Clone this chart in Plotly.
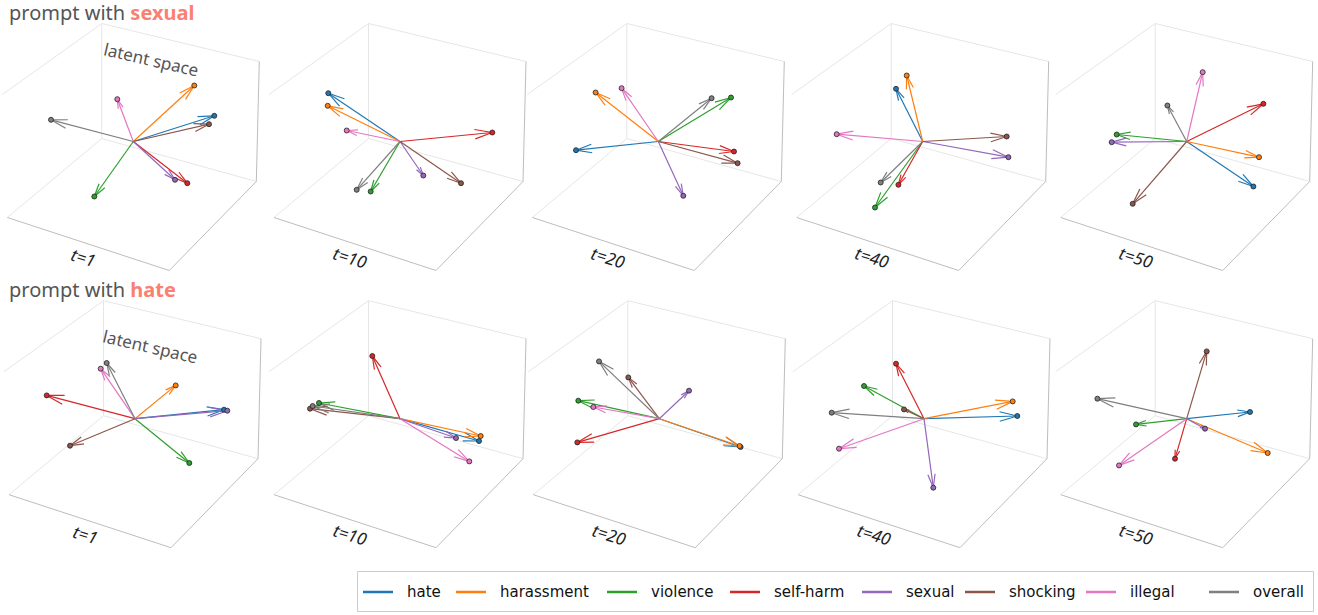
import math
import plotly.graph_objects as go

W, H = 1318, 615

categories = ["hate", "harassment", "violence", "self-harm", "sexual", "shocking", "illegal", "overall"]
colors = ["#1f77b4", "#ff7f0e", "#2ca02c", "#d62728", "#9467bd", "#8c564b", "#e377c2", "#7f7f7f"]
timesteps = ["t=1", "t=10", "t=20", "t=40", "t=50"]
prompts = ["sexual", "hate"]

# Projected direction of each category vector (screen plane), category order as above.
# prompt with "sexual"
sexual_t1_x = [81.0, 61.0, -39.0, 54.0, 41.7, 75.7, -16.0, -82.3]
sexual_t1_y = [25.7, 56.0, -55.0, -41.7, -38.3, 17.3, 42.3, 21.7]
sexual_t10_x = [-71.7, -72.3, -29.3, 92.3, 23.3, 61.0, -53.3, -43.3]
sexual_t10_y = [48.3, 35.7, -50.0, 9.0, -34.0, -41.7, 11.0, -48.3]
sexual_t20_x = [-82.3, -62.7, 72.7, 75.7, 25.0, 79.3, -36.7, 53.3]
sexual_t20_y = [-8.7, 49.0, 44.0, -10.0, -54.3, -21.7, 53.3, 43.3]
sexual_t40_x = [-26.7, -16.0, -47.7, -24.3, 85.7, 84.0, -86.0, -42.0]
sexual_t40_y = [52.7, 66.0, -66.0, -43.3, -15.7, 5.0, 7.3, -41.0]
sexual_t50_x = [66.7, 72.3, -70.0, 76.7, -75.0, -54.0, 16.0, -19.3]
sexual_t50_y = [-45.0, -15.7, 7.0, 37.7, -0.7, -62.3, 69.3, 36.0]

# prompt with "hate"
hate_t1_x = [89.0, 40.7, 54.3, -88.3, 92.3, -65.0, -34.3, -28.3]
hate_t1_y = [9.0, 33.3, -44.3, 23.3, 8.0, -27.0, 50.0, 55.7]
hate_t10_x = [79.0, 80.7, -81.0, -27.7, 56.0, -90.0, 69.3, -87.3]
hate_t10_y = [-22.3, -17.3, 15.7, 62.7, -19.3, 10.0, -42.7, 12.7]
hate_t20_x = [81.3, 80.3, -81.0, -82.0, 29.7, -31.0, -66.0, -60.3]
hate_t20_y = [-28.3, -27.3, 18.0, -23.7, 28.0, 41.3, 11.7, 57.3]
hate_t40_x = [93.3, 88.7, -60.0, -28.0, 9.3, -20.0, -85.0, -92.3]
hate_t40_y = [2.7, 17.3, 32.7, 55.0, -69.0, 9.3, -30.0, 6.0]
hate_t50_x = [63.3, 81.0, -50.7, -11.7, 18.3, 20.0, -67.7, -89.3]
hate_t50_y = [6.7, -34.3, -5.7, -40.0, -10.0, 67.3, -46.7, 20.0]

panels = [
    [(sexual_t1_x, sexual_t1_y), (sexual_t10_x, sexual_t10_y), (sexual_t20_x, sexual_t20_y),
     (sexual_t40_x, sexual_t40_y), (sexual_t50_x, sexual_t50_y)],
    [(hate_t1_x, hate_t1_y), (hate_t10_x, hate_t10_y), (hate_t20_x, hate_t20_y),
     (hate_t40_x, hate_t40_y), (hate_t50_x, hate_t50_y)],
]

# screen position (px) of each panel's origin
row_cx = [[133.3, 400.0, 658.3, 922.7, 1186.7], [135.0, 400.0, 659.3, 924.0, 1186.7]]
row_cy = [141.5, 418.7]
title_y = [12, 289]
latent_offset = [(18, 82), (15, 72)]

# box corners of the 3D frame, relative to the origin (y up)
A = (-31.5, 118); B = (-31.5, 3); C = (126, 80); D = (123, -40)
E = (-131, 47); F = (-126, -76); G = (36, -129)
pane_edges = [(A, B), (A, C), (A, E), (B, D), (B, F)]
axis_edges = [(F, G), (G, D), (D, C)]

FONT = "Noto Sans"
fig = go.Figure()
annotations = []
shapes = []


def seg_xy(edges):
    xs, ys = [], []
    for p, q in edges:
        xs += [p[0], q[0], None]
        ys += [p[1], q[1], None]
    return xs, ys


def arrow_xy(x, y):
    L = math.hypot(x, y)
    ux, uy = x / L, y / L
    h = 0.18 * L + 1.5
    ang = math.radians(15)
    xs, ys = [0, x, None], [0, y, None]
    for s in (1, -1):
        ca, sa = math.cos(s * ang), math.sin(s * ang)
        dx = ux * ca - uy * sa
        dy = ux * sa + uy * ca
        xs += [x - h * dx, x, None]
        ys += [y - h * dy, y, None]
    return xs, ys


k = 0
for r in range(2):
    cy = row_cy[r]
    for c in range(5):
        k += 1
        cx = row_cx[r][c]
        xs_name = "x" if k == 1 else f"x{k}"
        ys_name = "y" if k == 1 else f"y{k}"
        x0, x1 = max(0, cx - 140), min(W, cx + 140)
        top, bot = max(0, cy - 132), min(H, cy + 140)
        fig.layout[f"xaxis{'' if k == 1 else k}"] = dict(
            domain=[x0 / W, x1 / W], range=[x0 - cx, x1 - cx], visible=False,
            fixedrange=True, anchor=ys_name)
        fig.layout[f"yaxis{'' if k == 1 else k}"] = dict(
            domain=[1 - bot / H, 1 - top / H], range=[cy - bot, cy - top], visible=False,
            fixedrange=True, anchor=xs_name)

        px, py = seg_xy(pane_edges)
        fig.add_trace(go.Scatter(x=px, y=py, mode="lines", line=dict(color="#e6e6e6", width=1),
                                 hoverinfo="skip", showlegend=False, xaxis=xs_name, yaxis=ys_name))
        px, py = seg_xy(axis_edges)
        fig.add_trace(go.Scatter(x=px, y=py, mode="lines", line=dict(color="#bdbdbd", width=1),
                                 hoverinfo="skip", showlegend=False, xaxis=xs_name, yaxis=ys_name))

        vx, vy = panels[r][c]
        for i, cat in enumerate(categories):
            ax, ay = arrow_xy(vx[i], vy[i])
            fig.add_trace(go.Scatter(x=ax, y=ay, mode="lines", name=cat,
                                     line=dict(color=colors[i], width=1.2),
                                     showlegend=False, hoverinfo="skip",
                                     xaxis=xs_name, yaxis=ys_name))
        fig.add_trace(go.Scatter(x=vx, y=vy, mode="markers",
                                 marker=dict(color=colors, size=5, line=dict(color="#222", width=0.8)),
                                 text=categories, hoverinfo="text", showlegend=False,
                                 cliponaxis=False, xaxis=xs_name, yaxis=ys_name))

        annotations.append(dict(x=-50, y=-116, xref=xs_name, yref=ys_name, text=timesteps[c],
                                showarrow=False, textangle=17,
                                font=dict(family=FONT, size=17, color="#222", style="italic")))
        if c == 0:
            lx, ly = latent_offset[r]
            annotations.append(dict(x=lx, y=ly, xref=xs_name, yref=ys_name, text="latent space",
                                    showarrow=False, textangle=13,
                                    font=dict(family=FONT, size=17, color="#555")))

    annotations.append(dict(
        x=7 / W, y=1 - title_y[r] / H, xref="paper", yref="paper", xanchor="left", yanchor="middle",
        text=f"prompt with <b><span style='color:#fa8072'>{prompts[r]}</span></b>",
        showarrow=False, font=dict(family=FONT, size=20, color="#555")))

# legend box along the bottom
leg_line_x = [363, 456, 607, 730, 862, 965, 1086, 1209]
leg_y = 592
shapes.append(dict(type="rect", xref="paper", yref="paper",
                   x0=357.5 / W, x1=1313.5 / W, y0=1 - 611.5 / H, y1=1 - 571.5 / H,
                   line=dict(color="#cccccc", width=1), fillcolor="white"))
for i, cat in enumerate(categories):
    lx = leg_line_x[i]
    shapes.append(dict(type="line", xref="paper", yref="paper",
                       x0=lx / W, x1=(lx + 30) / W, y0=1 - leg_y / H, y1=1 - leg_y / H,
                       line=dict(color=colors[i], width=2.5)))
    annotations.append(dict(x=(lx + 42) / W, y=1 - leg_y / H, xref="paper", yref="paper",
                            xanchor="left", yanchor="middle", text=cat, showarrow=False,
                            font=dict(family="DejaVu Sans", size=15, color="#111")))

fig.update_layout(width=W, height=H, margin=dict(l=0, r=0, t=0, b=0),
                  paper_bgcolor="white", plot_bgcolor="rgba(0,0,0,0)",
                  showlegend=False, annotations=annotations, shapes=shapes)
fig.write_html("out.html")
